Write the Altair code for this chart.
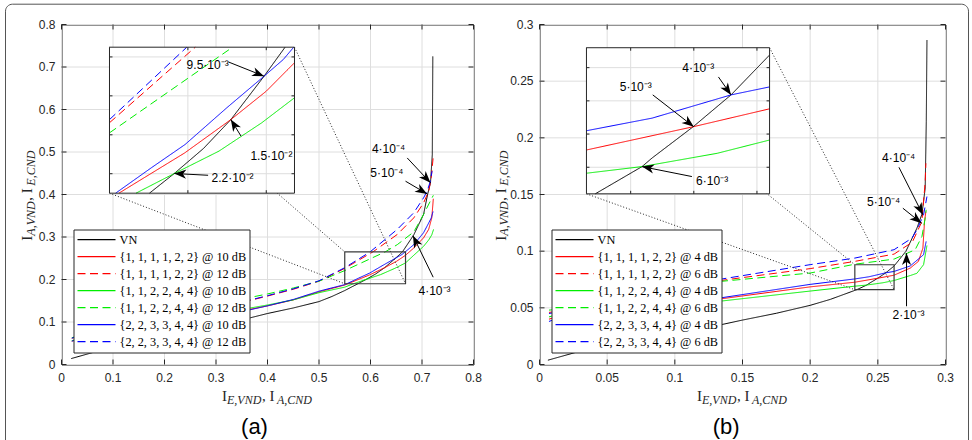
import math
import altair as alt
import pandas as pd

# ---------------- panel (a) data ----------------
A_NAMES = ["VN",
           "{1, 1, 1, 1, 2, 2} @ 10 dB", "{1, 1, 1, 1, 2, 2} @ 12 dB",
           "{1, 1, 2, 2, 4, 4} @ 10 dB", "{1, 1, 2, 2, 4, 4} @ 12 dB",
           "{2, 2, 3, 3, 4, 4} @ 10 dB", "{2, 2, 3, 3, 4, 4} @ 12 dB"]

A_VN_X = [0.019, 0.069, 0.15, 0.25, 0.367, 0.40, 0.45, 0.50, 0.525, 0.55, 0.5755, 0.5913, 0.61, 0.6274, 0.6486, 0.662, 0.684, 0.703, 0.711, 0.7165, 0.72, 0.721]
A_VN_Y = [0.014, 0.031, 0.055, 0.081, 0.110, 0.120, 0.133, 0.148, 0.160, 0.174, 0.19, 0.2001, 0.213, 0.2278, 0.2501, 0.265, 0.305, 0.353, 0.401, 0.4275, 0.494, 0.725]
A_R10_X = [0.02, 0.1, 0.2, 0.3, 0.367, 0.4, 0.45, 0.5, 0.55, 0.556, 0.598, 0.6274, 0.65, 0.668, 0.684, 0.703, 0.713, 0.719, 0.722]
A_R10_Y = [0.055, 0.080, 0.100, 0.118, 0.130, 0.138, 0.152, 0.171, 0.187, 0.19, 0.2107, 0.2278, 0.2424, 0.257, 0.274, 0.298, 0.318, 0.345, 0.39]
A_R12_X = [0.02, 0.1, 0.2, 0.3, 0.367, 0.4, 0.45, 0.5, 0.55, 0.6047, 0.652, 0.684, 0.703, 0.713, 0.718, 0.7215]
A_R12_Y = [0.062, 0.090, 0.115, 0.137, 0.151, 0.161, 0.177, 0.196, 0.2262, 0.265, 0.306, 0.345, 0.38, 0.408, 0.44, 0.485]
A_G10_X = [0.02, 0.1, 0.2, 0.3, 0.367, 0.4, 0.45, 0.5, 0.55, 0.5669, 0.5913, 0.6198, 0.647, 0.668, 0.684, 0.703, 0.713, 0.719, 0.7225]
A_G10_Y = [0.056, 0.082, 0.102, 0.121, 0.133, 0.140, 0.152, 0.169, 0.182, 0.19, 0.2001, 0.2116, 0.2261, 0.239, 0.257, 0.278, 0.293, 0.305, 0.318]
A_G12_X = [0.02, 0.1, 0.2, 0.3, 0.367, 0.4, 0.45, 0.5, 0.55, 0.6285, 0.652, 0.684, 0.703, 0.716, 0.722]
A_G12_Y = [0.063, 0.092, 0.118, 0.141, 0.158, 0.166, 0.180, 0.196, 0.221, 0.265, 0.282, 0.312, 0.353, 0.384, 0.398]
A_B10_X = [0.02, 0.1, 0.2, 0.3, 0.367, 0.4, 0.45, 0.5, 0.55, 0.5539, 0.5766, 0.5982, 0.625, 0.6486, 0.6609, 0.6675, 0.684, 0.703, 0.713, 0.718, 0.7215]
A_B10_Y = [0.055, 0.081, 0.101, 0.119, 0.129, 0.138, 0.153, 0.1725, 0.188, 0.19, 0.203, 0.215, 0.234, 0.2501, 0.2587, 0.265, 0.282, 0.31, 0.333, 0.345, 0.36]
A_B12_X = [0.02, 0.1, 0.2, 0.3, 0.367, 0.4, 0.45, 0.5, 0.55, 0.5993, 0.652, 0.684, 0.703, 0.71, 0.716, 0.7195]
A_B12_Y = [0.062, 0.090, 0.115, 0.137, 0.152, 0.162, 0.178, 0.197, 0.2278, 0.265, 0.318, 0.357, 0.392, 0.408, 0.43, 0.455]

A_TICKS = [0, 0.1, 0.2, 0.3, 0.4, 0.5, 0.6, 0.7, 0.8]
A_TICK_LABELS = ["0", "0.1", "0.2", "0.3", "0.4", "0.5", "0.6", "0.7", "0.8"]
A_ZOOM = [0.55, 0.668, 0.19, 0.265]            # zoomed region (x0, x1, y0, y1)
A_INSET_AT = [0.0932, 0.4524, 0.4031, 0.7466]  # where the inset sits, in main data units
A_INSET_XT = [0.6, 0.65]
A_INSET_YT = [0.2, 0.22, 0.24, 0.26]
A_LABELS = [("4\u00b710\u207b\u2074", 0.635, 0.5066), ("5\u00b710\u207b\u2074", 0.6318, 0.4508), ("4\u00b710\u207b\u00b3", 0.7243, 0.1725)]
A_ARROWS = [(0.6713, 0.486, 0.7165, 0.4275), (0.668, 0.4313, 0.710, 0.4014), (0.7217, 0.2054, 0.6825, 0.303)]
A_IN_LABELS = [("9.5\u00b710\u207b\u00b3", 0.6126, 0.2557), ("1.5\u00b710\u207b\u00b2", 0.6533, 0.209), ("2.2\u00b710\u207b\u00b2", 0.6285, 0.1979)]
A_IN_ARROWS = [(0.6259, 0.2574, 0.6486, 0.2501), (0.6339, 0.2193, 0.6274, 0.2279), (0.6129, 0.1992, 0.5913, 0.2001)]

# ---------------- panel (b) data ----------------
B_NAMES = ["VN",
           "{1, 1, 1, 1, 2, 2} @ 4 dB", "{1, 1, 1, 1, 2, 2} @ 6 dB",
           "{1, 1, 2, 2, 4, 4} @ 4 dB", "{1, 1, 2, 2, 4, 4} @ 6 dB",
           "{2, 2, 3, 3, 4, 4} @ 4 dB", "{2, 2, 3, 3, 4, 4} @ 6 dB"]

B_VN_X = [0.0062, 0.0316, 0.07, 0.1, 0.1345, 0.15, 0.175, 0.2, 0.215, 0.2344, 0.2418, 0.2434, 0.2499, 0.2559, 0.262, 0.2707, 0.2789, 0.2826, 0.285, 0.2858, 0.2863]
B_VN_Y = [0.0038, 0.0123, 0.021, 0.027, 0.0352, 0.0392, 0.0452, 0.0522, 0.0575, 0.066, 0.0701, 0.0714, 0.0761, 0.0809, 0.0869, 0.0998, 0.1203, 0.1327, 0.1556, 0.2143, 0.2863]
B_R4_X = [0.007, 0.05, 0.1, 0.1345, 0.2, 0.233, 0.2499, 0.262, 0.274, 0.28, 0.2833, 0.2845, 0.2855]
B_R4_Y = [0.046, 0.052, 0.056, 0.058, 0.0685, 0.0726, 0.0761, 0.0788, 0.0851, 0.091, 0.1027, 0.1262, 0.135]
B_R6_X = [0.007, 0.05, 0.1, 0.1345, 0.2, 0.233, 0.262, 0.2755, 0.2826, 0.285, 0.2855]
B_R6_Y = [0.040, 0.056, 0.068, 0.0742, 0.0846, 0.091, 0.0974, 0.108, 0.1262, 0.1615, 0.1776]
B_G4_X = [0.007, 0.05, 0.1, 0.1345, 0.2, 0.233, 0.2418, 0.2537, 0.262, 0.274, 0.2789, 0.2838, 0.2863]
B_G4_Y = [0.048, 0.052, 0.055, 0.056, 0.0648, 0.0691, 0.0701, 0.0721, 0.0741, 0.0785, 0.0805, 0.0881, 0.105]
B_G6_X = [0.007, 0.05, 0.1, 0.1345, 0.2, 0.233, 0.262, 0.2776, 0.2826, 0.285, 0.2857]
B_G6_Y = [0.042, 0.057, 0.068, 0.0734, 0.0807, 0.0885, 0.093, 0.1013, 0.113, 0.1291, 0.1365]
B_B4_X = [0.007, 0.05, 0.1, 0.1345, 0.2, 0.233, 0.2434, 0.2559, 0.262, 0.274, 0.2838, 0.2857]
B_B4_Y = [0.045, 0.053, 0.057, 0.0589, 0.0707, 0.0755, 0.0774, 0.0809, 0.0821, 0.087, 0.0969, 0.1086]
B_B6_X = [0.007, 0.05, 0.1, 0.1345, 0.2, 0.233, 0.262, 0.2752, 0.2789, 0.2838, 0.2863]
B_B6_Y = [0.038, 0.056, 0.069, 0.0754, 0.0881, 0.0939, 0.1013, 0.1115, 0.1189, 0.1321, 0.1482]

B_TICKS = [0, 0.05, 0.1, 0.15, 0.2, 0.25, 0.3]
B_TICK_LABELS = ["0", "0.05", "0.1", "0.15", "0.2", "0.25", "0.3"]
B_ZOOM = [0.233, 0.262, 0.066, 0.088]
B_INSET_AT = [0.0347, 0.170, 0.1506, 0.2795]
B_INSET_XT = [0.24, 0.25, 0.26]
B_INSET_YT = [0.07, 0.075, 0.08, 0.085]
B_LABELS = [("4\u00b710\u207b\u2074", 0.2654, 0.182), ("5\u00b710\u207b\u2074", 0.2543, 0.1438), ("2\u00b710\u207b\u00b3", 0.2727, 0.044)]
B_ARROWS = [(0.2656, 0.174, 0.2833, 0.1321), (0.2685, 0.1379, 0.2823, 0.1247), (0.2712, 0.0514, 0.2712, 0.0983)]
B_IN_LABELS = [("4\u00b710\u207b\u00b3", 0.2507, 0.0849), ("5\u00b710\u207b\u00b3", 0.2408, 0.0821), ("6\u00b710\u207b\u00b3", 0.2529, 0.068)]
B_IN_ARROWS = [(0.2539, 0.0836, 0.2559, 0.0809), (0.2435, 0.0809, 0.25, 0.0761), (0.2497, 0.0686, 0.2418, 0.0701)]

SERIES_COLORS = ["#000000", "#ff0000", "#ff0000", "#00ee00", "#00ee00", "#0000ff", "#0000ff"]
SOLID, DASH = [1, 0], [8, 4.5]
SERIES_DASHES = [SOLID, SOLID, DASH, SOLID, DASH, SOLID, DASH]

X_TITLE = [("I", False), ("E,VND", True), (", I", False), ("A,CND", True)]
Y_TITLE = [("I", False), ("A,VND", True), (", I", False), ("E,CND", True)]
TITLE_OFFSETS = [-45.5, -40.5, -5.5, 9.5]

# ---------------- styling ----------------
H = 340
AXC = "#262626"
GRID = "#dedede"
SERIF = "Liberation Serif"
SANS = "Liberation Sans"
HEAD = "M0,0L-0.38,1L0,0.72L0.38,1Z"


def series_table(names, xs, ys):
    rows = []
    for n, xx, yy in zip(names, xs, ys):
        for i, (a, b) in enumerate(zip(xx, yy)):
            rows.append({"series": n, "x": a, "y": b, "i": i})
    return pd.DataFrame(rows)


def txt(s, x, y, size, italic=False, angle=0, font=SERIF, color=AXC, align="left", baseline="alphabetic"):
    kw = dict(font=font, fontSize=size, color=color, align=align, baseline=baseline)
    if italic:
        kw["fontStyle"] = "italic"
    if angle:
        kw["angle"] = angle
    return alt.Chart(pd.DataFrame({"t": [s]})).mark_text(**kw).encode(
        text="t:N", x=alt.value(x), y=alt.value(y))


def build_panel(p, W, ytitle_x, tag, tag_x, frame=False):
    names = p["names"]
    xmax, ymax = p["ticks"][-1], p["ticks"][-1]
    xs_m = alt.Scale(domain=[0, xmax], nice=False, zero=False)
    ys_m = alt.Scale(domain=[0, ymax], nice=False, zero=False)
    zx0, zx1, zy0, zy1 = p["zoom"]
    ax0, ax1, ay0, ay1 = p["inset_at"]
    rx0, rx1 = W * ax0 / xmax, W * ax1 / xmax
    ry0, ry1 = H * (1 - ay0 / ymax), H * (1 - ay1 / ymax)
    xs_i = alt.Scale(domain=[zx0, zx1], range=[rx0, rx1], nice=False, zero=False)
    ys_i = alt.Scale(domain=[zy0, zy1], range=[ry0, ry1], nice=False, zero=False)

    legend = alt.Legend(title=None, orient="bottom-left", offset=12, fillColor="white",
                        strokeColor=AXC, padding=3, symbolType="stroke", symbolSize=1444,
                        symbolStrokeWidth=1.2, clipHeight=14.4, rowPadding=2,
                        labelFont=SERIF, labelFontSize=12.3, labelColor="black",
                        labelOffset=3, labelLimit=400)
    color = alt.Color("series:N", scale=alt.Scale(domain=names, range=SERIES_COLORS), legend=legend)
    dash = alt.StrokeDash("series:N", scale=alt.Scale(domain=names, range=SERIES_DASHES), legend=legend)

    tdf = pd.DataFrame({"v": p["ticks"], "lab": p["tick_labels"]})
    main = []
    # grid
    main.append(alt.Chart(tdf).mark_rule(color=GRID, strokeWidth=1).encode(
        x=alt.X("v:Q", scale=xs_m, axis=None), y=alt.value(0), y2=alt.value(H)))
    main.append(alt.Chart(tdf).mark_rule(color=GRID, strokeWidth=1).encode(
        y=alt.Y("v:Q", scale=ys_m, axis=None), x=alt.value(0), x2=alt.value(W)))
    # tick labels
    main.append(alt.Chart(tdf).mark_text(font=SANS, fontSize=12, color=AXC, align="center", baseline="top").encode(
        x=alt.X("v:Q", scale=xs_m, axis=None), y=alt.value(H + 8), text="lab:N"))
    main.append(alt.Chart(tdf).mark_text(font=SANS, fontSize=12, color=AXC, align="right", baseline="middle").encode(
        y=alt.Y("v:Q", scale=ys_m, axis=None), x=alt.value(-6), text="lab:N"))

    df = series_table(names, p["xs"], p["ys"])
    main.append(alt.Chart(df).mark_line(strokeWidth=1, clip=True).encode(
        x=alt.X("x:Q", scale=xs_m, axis=None), y=alt.Y("y:Q", scale=ys_m, axis=None),
        color=color, strokeDash=dash, order=alt.Order("i:Q")))

    rule = dict(color=AXC, strokeWidth=1)
    main.append(alt.Chart(tdf).mark_rule(**rule).encode(
        x=alt.X("v:Q", scale=xs_m, axis=None), y=alt.value(H), y2=alt.value(H - 5)))
    main.append(alt.Chart(tdf).mark_rule(**rule).encode(
        x=alt.X("v:Q", scale=xs_m, axis=None), y=alt.value(0), y2=alt.value(5)))
    main.append(alt.Chart(tdf).mark_rule(**rule).encode(
        y=alt.Y("v:Q", scale=ys_m, axis=None), x=alt.value(0), x2=alt.value(5)))
    main.append(alt.Chart(tdf).mark_rule(**rule).encode(
        y=alt.Y("v:Q", scale=ys_m, axis=None), x=alt.value(W - 5), x2=alt.value(W)))

    zdf = pd.DataFrame({"x0": [zx0], "x1": [zx1], "y0": [zy0], "y1": [zy1]})
    main.append(alt.Chart(zdf).mark_rect(fillOpacity=0, stroke="#3a3a3a", strokeWidth=1.2).encode(
        x=alt.X("x0:Q", scale=xs_m, axis=None), x2=alt.X2("x1"),
        y=alt.Y("y0:Q", scale=ys_m, axis=None), y2=alt.Y2("y1")))

    cdf = pd.DataFrame({"a": [ax0, ax0, ax1], "b": [ay1, ay0, ay1],
                        "c": [zx0, zx0, zx1], "d": [zy1, zy0, zy0]})
    main.append(alt.Chart(cdf).mark_rule(color=AXC, strokeWidth=1, strokeDash=[1, 2]).encode(
        x=alt.X("a:Q", scale=xs_m, axis=None), y=alt.Y("b:Q", scale=ys_m, axis=None),
        x2=alt.X2("c"), y2=alt.Y2("d")))

    def arrows(arrs, labels, xs, ys, sx, sy):
        rows = []
        for tx, ty, hx, hy in arrs:
            dx = (hx - tx) * sx
            dy = -(hy - ty) * sy
            ang = math.degrees(math.atan2(dx, -dy)) % 360
            rows.append({"tx": tx, "ty": ty, "hx": hx, "hy": hy, "ang": ang})
        adf = pd.DataFrame(rows)
        ldf = pd.DataFrame([{"t": t, "x": x, "y": y} for t, x, y in labels])
        return [
            alt.Chart(adf).mark_rule(color="black", strokeWidth=1).encode(
                x=alt.X("tx:Q", scale=xs, axis=None), y=alt.Y("ty:Q", scale=ys, axis=None),
                x2=alt.X2("hx"), y2=alt.Y2("hy")),
            alt.Chart(adf).mark_point(shape=HEAD, filled=True, size=576, color="black", opacity=1).encode(
                x=alt.X("hx:Q", scale=xs, axis=None), y=alt.Y("hy:Q", scale=ys, axis=None),
                angle=alt.Angle("ang:Q", scale=None)),
            alt.Chart(ldf).mark_text(font=SANS, fontSize=12, color="black", align="center", baseline="middle").encode(
                x=alt.X("x:Q", scale=xs, axis=None), y=alt.Y("y:Q", scale=ys, axis=None), text="t:N"),
        ]

    main += arrows(p["arrows"], p["labels"], xs_m, ys_m, W / xmax, H / ymax)

    # axis titles (with subscripts)
    cx = W / 2
    for (s, it), off in zip(X_TITLE, TITLE_OFFSETS):
        main.append(txt(s, cx + off, H + (39.5 if it else 36.7), 12 if it else 15, italic=it))
    cy = H / 2 + 0.7
    for (s, it), off in zip(Y_TITLE, TITLE_OFFSETS):
        main.append(txt(s, ytitle_x + (2.8 if it else 0), cy - off, 12 if it else 15, italic=it, angle=270))
    main.append(txt(tag, tag_x, 409, 22, font=SANS, color="black", align="center"))

    if frame:
        main.append(alt.Chart(pd.DataFrame({"k": [0]})).mark_rect(
            fillOpacity=0, stroke="#555555", strokeWidth=1, cornerRadiusTopLeft=7, cornerRadiusTopRight=7
        ).encode(x=alt.value(-56), x2=alt.value(907), y=alt.value(-20.3), y2=alt.value(416)))
        main.append(alt.Chart(pd.DataFrame({"k": [0]})).mark_rule(color="white", strokeWidth=2.5).encode(
            x=alt.value(-55), x2=alt.value(906), y=alt.value(416.3), y2=alt.value(416.3)))

    # ---- inset ----
    inset = []
    inset.append(alt.Chart(zdf).mark_rect(fill="white", strokeWidth=0).encode(
        x=alt.X("x0:Q", scale=xs_i, axis=None), x2=alt.X2("x1"),
        y=alt.Y("y0:Q", scale=ys_i, axis=None), y2=alt.Y2("y1")))
    ixt = pd.DataFrame({"v": p["inset_xt"]})
    iyt = pd.DataFrame({"v": p["inset_yt"]})
    inset.append(alt.Chart(ixt).mark_rule(color=GRID, strokeWidth=1).encode(
        x=alt.X("v:Q", scale=xs_i, axis=None), y=alt.value(ry1), y2=alt.value(ry0)))
    inset.append(alt.Chart(iyt).mark_rule(color=GRID, strokeWidth=1).encode(
        y=alt.Y("v:Q", scale=ys_i, axis=None), x=alt.value(rx0), x2=alt.value(rx1)))
    inset.append(alt.Chart(ixt).mark_rule(**rule).encode(
        x=alt.X("v:Q", scale=xs_i, axis=None), y=alt.value(ry0), y2=alt.value(ry0 - 3)))
    inset.append(alt.Chart(ixt).mark_rule(**rule).encode(
        x=alt.X("v:Q", scale=xs_i, axis=None), y=alt.value(ry1), y2=alt.value(ry1 + 3)))
    inset.append(alt.Chart(iyt).mark_rule(**rule).encode(
        y=alt.Y("v:Q", scale=ys_i, axis=None), x=alt.value(rx0), x2=alt.value(rx0 + 3)))
    inset.append(alt.Chart(iyt).mark_rule(**rule).encode(
        y=alt.Y("v:Q", scale=ys_i, axis=None), x=alt.value(rx1 - 3), x2=alt.value(rx1)))
    e = 1e-9
    flt = (f"datum.x >= {zx0 - e} && datum.x <= {zx1 + e} && "
           f"datum.y >= {zy0 - e} && datum.y <= {zy1 + e}")
    inset.append(alt.Chart(df).transform_filter(flt).mark_line(strokeWidth=1).encode(
        x=alt.X("x:Q", scale=xs_i, axis=None), y=alt.Y("y:Q", scale=ys_i, axis=None),
        color=color, strokeDash=dash, order=alt.Order("i:Q")))
    inset.append(alt.Chart(zdf).mark_rect(fillOpacity=0, stroke=AXC, strokeWidth=1).encode(
        x=alt.X("x0:Q", scale=xs_i, axis=None), x2=alt.X2("x1"),
        y=alt.Y("y0:Q", scale=ys_i, axis=None), y2=alt.Y2("y1")))
    inset += arrows(p["in_arrows"], p["in_labels"], xs_i, ys_i,
                    (rx1 - rx0) / (zx1 - zx0), (ry0 - ry1) / (zy1 - zy0))

    return alt.layer(alt.layer(*main), alt.layer(*inset)).resolve_scale(
        x="independent", y="independent").properties(width=W, height=H)


PA = dict(names=A_NAMES,
          xs=[A_VN_X, A_R10_X, A_R12_X, A_G10_X, A_G12_X, A_B10_X, A_B12_X],
          ys=[A_VN_Y, A_R10_Y, A_R12_Y, A_G10_Y, A_G12_Y, A_B10_Y, A_B12_Y],
          ticks=A_TICKS, tick_labels=A_TICK_LABELS, zoom=A_ZOOM, inset_at=A_INSET_AT,
          inset_xt=A_INSET_XT, inset_yt=A_INSET_YT, labels=A_LABELS, arrows=A_ARROWS,
          in_labels=A_IN_LABELS, in_arrows=A_IN_ARROWS)
PB = dict(names=B_NAMES,
          xs=[B_VN_X, B_R4_X, B_R6_X, B_G4_X, B_G6_X, B_B4_X, B_B6_X],
          ys=[B_VN_Y, B_R4_Y, B_R6_Y, B_G4_Y, B_G6_Y, B_B4_Y, B_B6_Y],
          ticks=B_TICKS, tick_labels=B_TICK_LABELS, zoom=B_ZOOM, inset_at=B_INSET_AT,
          inset_xt=B_INSET_XT, inset_yt=B_INSET_YT, labels=B_LABELS, arrows=B_ARROWS,
          in_labels=B_IN_LABELS, in_arrows=B_IN_ARROWS)

panel_a = build_panel(PA, 412, -29.3, "(a)", 193, frame=True)
panel_b = build_panel(PB, 406, -34.0, "(b)", 186.7)

chart = alt.hconcat(panel_a, panel_b, spacing=66, bounds="flush").resolve_scale(
    color="independent", strokeDash="independent"
).properties(
    padding={"left": 4.5, "top": 2.5, "right": 0, "bottom": 0}, background="white"
).configure_view(stroke=AXC, strokeWidth=1)

chart.save("out.html", embed_options={"renderer": "svg", "actions": False})
